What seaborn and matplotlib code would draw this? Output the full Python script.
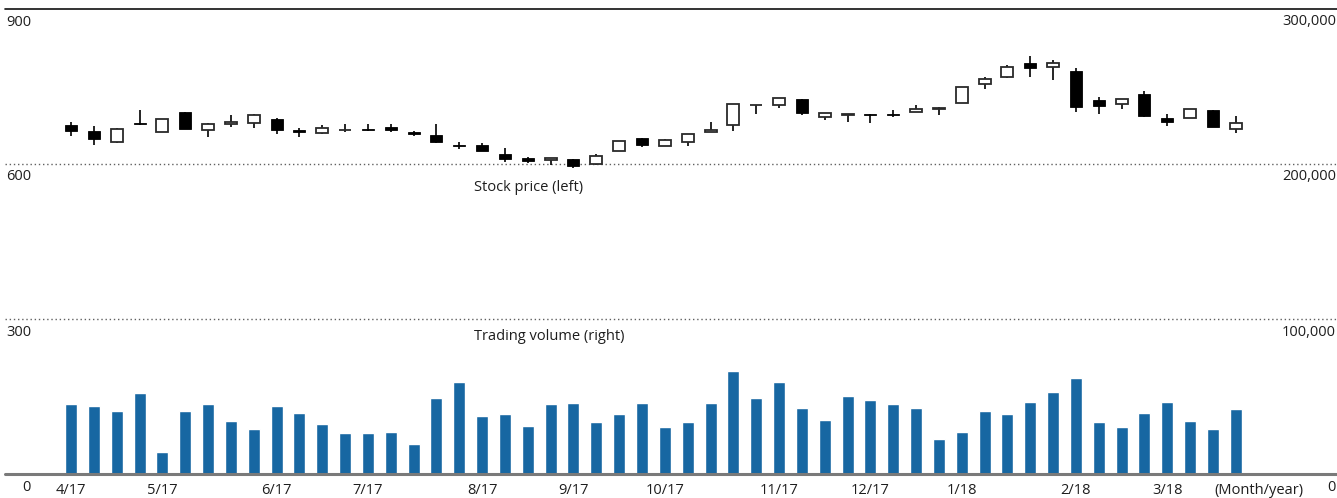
import numpy as np
import pandas as pd
import matplotlib
matplotlib.use("Agg")
import matplotlib.pyplot as plt
from matplotlib.transforms import ScaledTranslation
import seaborn as sns

# Weekly share price (yen): open, high, low, close
open_px = [675.3, 664.3, 641.8, 679.8, 661.7, 701.0, 665.0, 677.8, 679.8, 687.5,
           666.2, 659.8, 665.0, 667.5, 672.0, 662.4, 656.6, 636.6, 637.3, 619.9,
           612.1, 607.0, 610.2, 600.6, 625.7, 650.1, 634.7, 641.8, 661.7, 675.3,
           713.3, 713.9, 726.1, 691.4, 694.6, 697.2, 697.2, 701.0, 706.2, 719.0,
           755.8, 769.3, 795.0, 788.6, 780.9, 724.2, 716.5, 736.4, 689.4, 688.8,
           704.9, 667.5]
high_px = [681.1, 673.3, 669.5, 704.2, 686.8, 701.0, 679.8, 694.0, 696.5, 689.4,
           669.5, 675.3, 677.2, 677.8, 677.8, 664.3, 677.8, 642.4, 640.5, 631.5,
           614.1, 611.5, 610.2, 619.9, 645.0, 650.1, 648.2, 657.9, 681.1, 715.2,
           714.5, 728.1, 726.1, 699.1, 695.9, 697.2, 704.2, 714.5, 710.0, 748.7,
           768.0, 791.8, 809.8, 802.1, 785.4, 730.6, 725.5, 741.6, 696.5, 706.8,
           704.9, 692.0]
low_px = [653.4, 636.6, 639.8, 674.6, 661.7, 666.9, 651.4, 670.7, 668.8, 657.2,
          652.1, 657.2, 661.7, 663.7, 661.1, 653.4, 639.8, 629.5, 624.4, 604.4,
          601.8, 597.3, 592.8, 598.6, 625.7, 632.1, 634.7, 635.3, 661.7, 663.7,
          696.5, 707.5, 694.0, 684.3, 681.1, 679.8, 691.4, 699.7, 695.2, 717.1,
          744.2, 766.7, 768.6, 762.8, 700.4, 696.5, 706.8, 690.1, 674.0, 688.8,
          670.7, 660.4]
close_px = [663.0, 647.6, 668.2, 676.5, 686.8, 668.2, 676.5, 681.7, 694.0, 665.0,
            662.4, 668.8, 666.2, 665.6, 665.0, 657.2, 641.8, 635.3, 624.4, 609.0,
            605.1, 611.5, 595.4, 615.4, 645.0, 637.3, 646.3, 657.9, 665.6, 715.2,
            714.5, 728.1, 697.8, 699.1, 695.9, 694.0, 694.0, 706.2, 707.5, 748.7,
            764.1, 787.3, 786.7, 796.3, 710.7, 711.3, 725.5, 693.3, 680.4, 705.5,
            672.0, 679.1]

# Weekly trading volume (shares)
volume = [45000, 43700, 40500, 52000, 14000, 40500, 45000, 34000, 28800, 43700,
          39200, 32000, 26300, 26300, 26900, 19200, 48800, 59200, 37200, 38500,
          30800, 45000, 45600, 33300, 38500, 45600, 30100, 33400, 45700, 66400,
          48900, 59300, 42500, 34700, 50200, 47600, 45000, 42500, 22400, 26900,
          40500, 38600, 46300, 52800, 61900, 33400, 30200, 39200, 46300, 34100,
          28900, 41800]

month_labels = ["4/17", "5/17", "6/17", "7/17", "8/17", "9/17", "10/17",
                "11/17", "12/17", "1/18", "2/18", "3/18", "(Month/year)"]
month_start_week = [0, 4, 9, 13, 18, 22, 26, 31, 35, 39, 44, 48, 52]

price_ticks = [0, 300, 600, 900]
volume_ticks = [0, 100000, 200000, 300000]

sns.set_theme(style="white")
plt.rcParams["font.family"] = ["Open Sans", "DejaVu Sans"]

TXT = "#1e1e1e"
FS = 10.5
BLUE = "#1767a2"

W, H = 1337, 498
fig = plt.figure(figsize=(W / 100, H / 100), dpi=100)
ax = fig.add_axes([5 / W, 24 / H, 1332 / W, 465 / H])
ax2 = ax.twinx()

# Volume bars on the right-hand scale
df = pd.DataFrame({"week": np.arange(len(volume)), "volume": volume})
sns.barplot(data=df, x="week", y="volume", ax=ax2, color=BLUE,
            width=0.525, saturation=1)
ax2.set_xlabel("")
ax2.set_ylabel("")
ax2.set_ylim(0, 300000)

# Candlesticks on the left-hand scale
x = np.arange(len(open_px))
o = np.asarray(open_px)
h = np.asarray(high_px)
l = np.asarray(low_px)
c = np.asarray(close_px)
up = c >= o
lo = np.minimum(o, c)
ht = np.abs(c - o)
ax.vlines(x, l, h, color="black", linewidth=1.2, zorder=2)
ax.bar(x[up], ht[up], bottom=lo[up], width=0.525, color="white",
       edgecolor="#2a2a2a", linewidth=1.3, zorder=3)
ax.bar(x[~up], np.maximum(ht[~up], 2.0), bottom=lo[~up], width=0.525,
       color="black", edgecolor="black", linewidth=0.6, zorder=3)

ax.set_ylim(0, 900)
ax.set_xlim(-2.89, 55.43)

# Reference lines
ax.axhline(900, color="#111111", linewidth=1.2, clip_on=False, zorder=1)
for v in (300, 600):
    ax.axhline(v, color="#606060", linewidth=1.0, linestyle=(0, (1, 2)), zorder=1)
ax2.axhline(0, color="#7a7a7a", linewidth=2.2, clip_on=False, zorder=4)

for a in (ax, ax2):
    for s in a.spines.values():
        s.set_visible(False)
    a.grid(False)

# Tick labels
ax.set_xticks(month_start_week)
ax.set_xticklabels(month_labels)
ax.tick_params(axis="x", length=0, pad=6.5, labelsize=FS, labelcolor=TXT)

ax.set_yticks(price_ticks)
ax.set_yticklabels([f"{v:,}" for v in price_ticks])
ax.tick_params(axis="y", length=0, pad=-26 * 0.72, labelsize=FS, labelcolor=TXT)

ax2.set_yticks(volume_ticks)
ax2.set_yticklabels([f"{v:,}" for v in volume_ticks])
ax2.tick_params(axis="y", length=0, pad=-1 * 0.72, labelsize=FS, labelcolor=TXT)

# Value labels sit just below their reference lines
shift = ScaledTranslation(0, -5.5 / 100, fig.dpi_scale_trans)
for t in ax.get_yticklabels():
    t.set_verticalalignment("top")
    t.set_transform(t.get_transform() + shift)
for t in ax2.get_yticklabels():
    t.set_verticalalignment("top")
    t.set_horizontalalignment("right")
    t.set_transform(t.get_transform() + shift)

# Series captions
ax.text(17.64, 555, "Stock price (left)", ha="left", va="center",
        fontsize=FS, color=TXT)
ax.text(17.64, 267, "Trading volume (right)", ha="left", va="center",
        fontsize=FS, color=TXT)

fig.savefig("out.png", dpi=100)
